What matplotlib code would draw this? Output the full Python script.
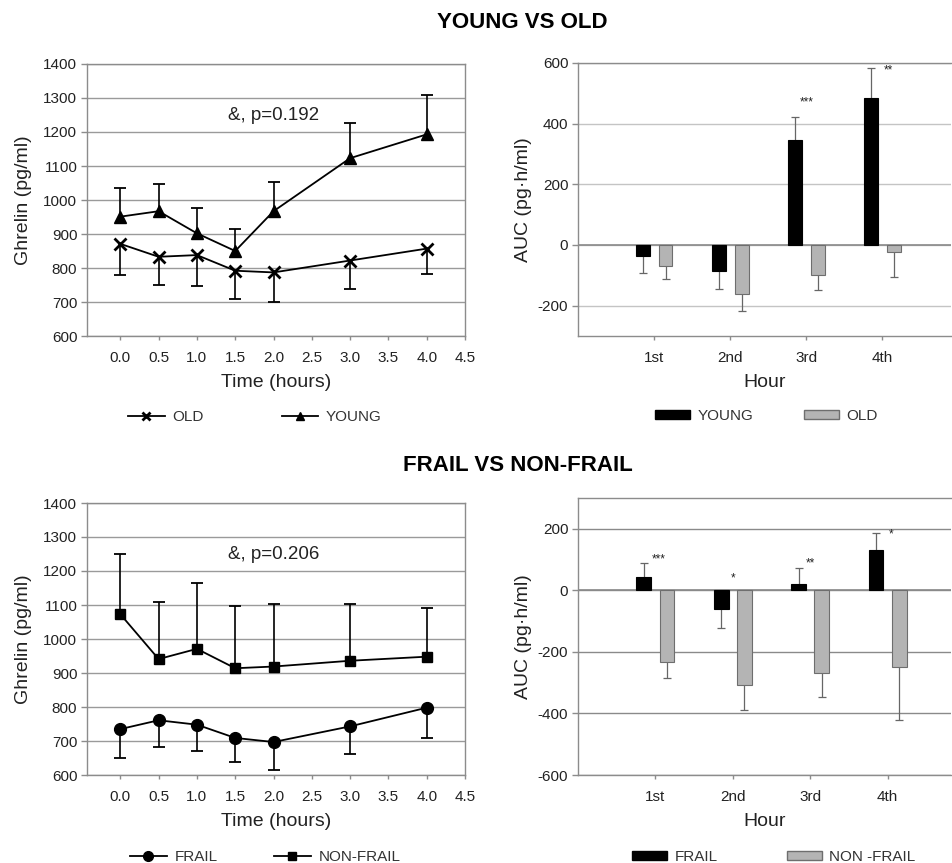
import matplotlib
matplotlib.use("Agg")
import matplotlib.pyplot as plt
import numpy as np
from matplotlib.lines import Line2D
from matplotlib.patches import Patch

plt.rcParams['font.family'] = ['Liberation Sans', 'DejaVu Sans']
plt.rcParams['axes.unicode_minus'] = False

# ---------------- data ----------------
time_h = [0.0, 0.5, 1.0, 1.5, 2.0, 3.0, 4.0]
x_ticks = [0.0, 0.5, 1.0, 1.5, 2.0, 2.5, 3.0, 3.5, 4.0, 4.5]

young_mean = [951, 967, 902, 850, 967, 1123, 1193]
young_err = [85, 79, 73, 64, 86, 104, 115]
old_mean = [871, 833, 838, 792, 787, 822, 857]
old_err = [92, 83, 91, 83, 88, 83, 76]

frail_mean = [735, 761, 748, 709, 697, 743, 798]
frail_err = [86, 79, 77, 72, 83, 81, 90]
nonfrail_mean = [1073, 941, 971, 914, 919, 936, 948]
nonfrail_err = [177, 169, 193, 182, 183, 166, 142]

hours = ['1st', '2nd', '3rd', '4th']
auc_young = [-36, -87, 345, 484]
auc_young_err = [55, 57, 77, 101]
auc_old = [-68, -161, -99, -23]
auc_old_err = [43, 55, 49, 83]
sig_top = ['', '', '***', '**']
sig_top_y = [0, 0, 471, 576]

auc_frail = [43, -61, 21, 130]
auc_frail_err = [46, 63, 50, 56]
auc_nonfrail = [-232, -309, -270, -249]
auc_nonfrail_err = [54, 81, 76, 173]
sig_bot = ['***', '*', '**', '*']
sig_bot_y = [99, 40, 89, 180]

# ---------------- figure ----------------
W, H = 953, 863
fig = plt.figure(figsize=(W / 100, H / 100), dpi=100)

def fr(l, t, r, b):
    return [l / W, 1 - b / H, (r - l) / W, (b - t) / H]

SP = '#8c8c8c'
TXT = '#222222'

def style_common(ax):
    for s in ax.spines.values():
        s.set_color(SP)
        s.set_linewidth(1.0)
    ax.tick_params(axis='both', colors=SP, labelcolor=TXT, labelsize=11)
    ax.tick_params(axis='y', length=4, width=1, pad=3)
    ax.tick_params(axis='x', length=3, width=1, pad=8)
    ax.set_axisbelow(True)

def line_panel(ax, s1, e1, s2, e2, m1, m2, ms1, ms2, note):
    style_common(ax)
    ax.set_xlim(-0.435, 4.5)
    ax.set_ylim(600, 1400)
    ax.set_yticks(np.arange(600, 1401, 100))
    ax.set_xticks(x_ticks)
    ax.set_xticklabels([f'{v:.1f}' for v in x_ticks])
    ax.yaxis.grid(True, color='#9a9a9a', linewidth=1.0)
    t = np.array(time_h)
    a1, ae1 = np.array(s1), np.array(e1)
    a2, ae2 = np.array(s2), np.array(e2)
    # lower-side errors for series 1, upper-side for series 2
    ax.vlines(t, a1 - ae1, a1, color='black', linewidth=1.2, zorder=2)
    ax.plot(t, a1 - ae1, linestyle='none', marker='_', ms=9, mew=1.3, color='black', zorder=2)
    ax.vlines(t, a2, a2 + ae2, color='black', linewidth=1.2, zorder=2)
    ax.plot(t, a2 + ae2, linestyle='none', marker='_', ms=9, mew=1.3, color='black', zorder=2)
    ax.plot(t, a1, color='black', linewidth=1.3, marker=m1, ms=ms1, mew=2 if m1 == 'x' else 1, zorder=3)
    ax.plot(t, a2, color='black', linewidth=1.3, marker=m2, ms=ms2, zorder=3)
    ax.text(2.0, 1248, note, ha='center', va='center', fontsize=13.5, color=TXT)
    ax.set_xlabel('Time (hours)', fontsize=14, color=TXT, labelpad=6)
    ax.set_ylabel('Ghrelin (pg/ml)', fontsize=14, color=TXT, labelpad=8)

def bar_panel(ax, v1, e1, v2, e2, ylim, yt, sig, sig_y, sig_dx, grid_c, w):
    style_common(ax)
    ax.spines['right'].set_visible(False)
    x = np.arange(1, len(hours) + 1)
    ax.set_xlim(0, ylim[2])
    ax.set_ylim(ylim[0], ylim[1])
    ax.set_yticks(yt)
    ax.set_xticks(x)
    ax.set_xticklabels(hours)
    ax.yaxis.grid(True, color=grid_c, linewidth=1.0)
    ax.axhline(0, color='#8a8a8a', linewidth=1.2, zorder=1)
    off = 0.15
    for vals, errs, xo, fc, ec in [(v1, e1, -off, 'black', 'black'), (v2, e2, off, '#b4b4b4', '#6e6e6e')]:
        vals = np.array(vals, float)
        errs = np.array(errs, float)
        xs = x + xo
        ends = vals + np.sign(vals) * errs
        ax.vlines(xs, vals, ends, color='#666666', linewidth=0.9, zorder=2)
        ax.plot(xs, ends, linestyle='none', marker='_', ms=6, mew=0.9, color='#666666', zorder=2)
        ax.bar(xs, vals, width=w, color=fc, edgecolor=ec, linewidth=0.8, zorder=3)
    for i, s in enumerate(sig):
        if s:
            ax.text(x[i] + sig_dx[i], sig_y[i], s, ha='center', va='center', fontsize=8.5, color=TXT)
    ax.set_xlabel('Hour', fontsize=14, color=TXT, labelpad=6)
    ax.set_ylabel('AUC (pg·h/ml)', fontsize=14, color=TXT, labelpad=4)

# Titles
fig.text(522 / W, 1 - 22 / H, 'YOUNG VS OLD', ha='center', va='center', fontsize=16, fontweight='bold', color='black')
fig.text(518 / W, 1 - 465 / H, 'FRAIL VS NON-FRAIL', ha='center', va='center', fontsize=16, fontweight='bold', color='black')

# Top-left
ax1 = fig.add_axes(fr(87, 64, 465, 336))
line_panel(ax1, old_mean, old_err, young_mean, young_err, 'x', '^', 8, 8, '&, p=0.192')

# Top-right
ax2 = fig.add_axes(fr(578, 63, 951, 336))
bar_panel(ax2, auc_young, auc_young_err, auc_old, auc_old_err, (-300, 600, 4.9),
          [-200, 0, 200, 400, 600], sig_top, sig_top_y, [0, 0, 0.01, 0.08], '#c4c4c4', 0.18)

# Bottom-left
ax3 = fig.add_axes(fr(87, 503, 465, 775))
line_panel(ax3, frail_mean, frail_err, nonfrail_mean, nonfrail_err, 'o', 's', 8.5, 7.5, '&, p=0.206')

# Bottom-right
ax4 = fig.add_axes(fr(578, 498, 951, 775))
bar_panel(ax4, auc_frail, auc_frail_err, auc_nonfrail, auc_nonfrail_err, (-600, 300, 4.82),
          [-600, -400, -200, 0, 200], sig_bot, sig_bot_y, [0.04, 0, 0, 0.05], '#8a8a8a', 0.19)

# Legends
def line_legend(labels, markers, mss, x0, y0, colsp):
    hs = [Line2D([], [], color='black', linewidth=1.3, marker=m, ms=ms, mew=2 if m == 'x' else 1)
          for m, ms in zip(markers, mss)]
    lg = fig.legend(hs, labels, loc='center left', bbox_to_anchor=(x0 / W, 1 - y0 / H), ncol=2,
                    frameon=False, fontsize=11, handlelength=2.4, handletextpad=0.5,
                    columnspacing=colsp, borderpad=0, borderaxespad=0)
    for t in lg.get_texts():
        t.set_color('#333333')

def bar_legend(labels, x0, y0, colsp):
    hs = [Patch(facecolor='black', edgecolor='black'),
          Patch(facecolor='#b4b4b4', edgecolor='#6e6e6e')]
    lg = fig.legend(hs, labels, loc='center left', bbox_to_anchor=(x0 / W, 1 - y0 / H), ncol=2,
                    frameon=False, fontsize=11, handlelength=2.3, handleheight=0.45,
                    handletextpad=0.5, columnspacing=colsp, borderpad=0, borderaxespad=0)
    for t in lg.get_texts():
        t.set_color('#333333')

line_legend(['OLD', 'YOUNG'], ['x', '^'], [6, 6], 128, 417, 5.1)
bar_legend(['YOUNG', 'OLD'], 655, 416, 3.3)
line_legend(['FRAIL', 'NON-FRAIL'], ['o', 's'], [7, 6], 130, 857, 3.7)
bar_legend(['FRAIL', 'NON -FRAIL'], 632, 857, 4.5)

fig.savefig('out.png', dpi=100)
